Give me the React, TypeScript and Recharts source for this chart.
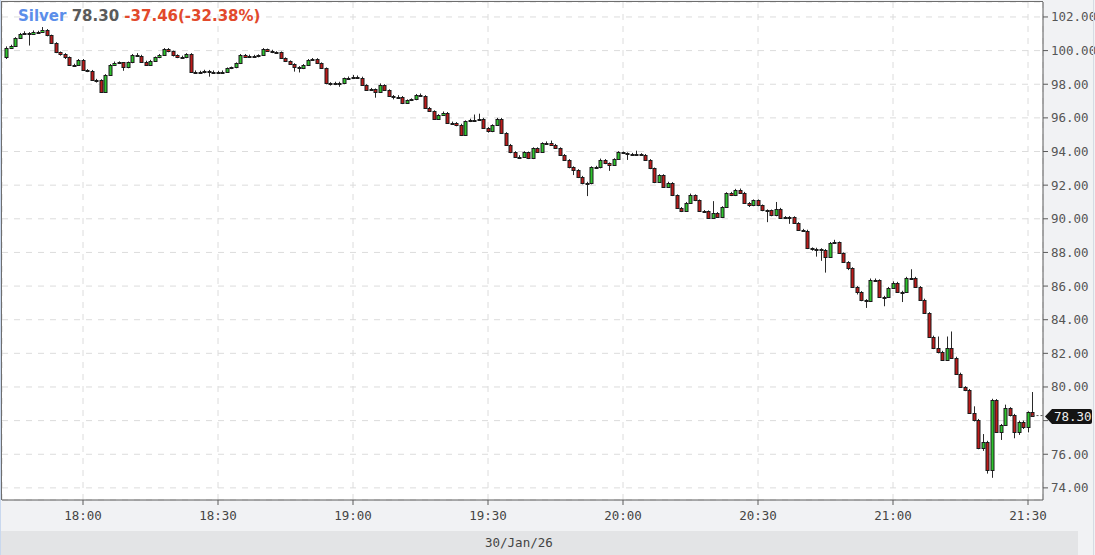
import React from "react";
import { ComposedChart, Bar, XAxis, YAxis, CartesianGrid, ReferenceLine } from "recharts";

// header / labels
const symbol = "Silver";
const lastPriceText = "78.30";
const changeText = "-37.46(-32.38%)";
const dateLabel = "30/Jan/26";

// one candle per minute, first one at 17:43
const firstOpen = 99.6;
const closes = [
  100.15, 100.27, 100.75, 101.0, 101.05, 101.0, 101.1, 101.1, 101.2, 100.9,
  100.45, 99.9, 99.8, 99.6, 99.15, 99.15, 99.44, 98.85, 98.8, 98.25,
  98.25, 97.55, 98.55, 99.15, 99.27, 99.3, 99.0, 99.3, 99.74, 99.7,
  99.35, 99.15, 99.4, 99.6, 99.75, 100.1, 99.95, 99.74, 99.64, 99.6,
  99.8, 98.75, 98.75, 98.7, 98.8, 98.72, 98.75, 98.7, 98.75, 98.95,
  99.0, 99.25, 99.74, 99.64, 99.7, 99.65, 99.72, 100.08, 99.98, 99.9,
  99.9, 99.55, 99.38, 99.2, 99.03, 98.95, 99.15, 99.44, 99.5, 99.25,
  98.97, 98.07, 98.0, 98.1, 98.05, 98.35, 98.4, 98.45, 98.4, 97.96,
  97.66, 97.7, 97.55, 97.96, 97.66, 97.3, 97.25, 97.25, 96.89, 97.05,
  97.1, 97.36, 97.3, 96.6, 96.4, 95.94, 96.17, 96.3, 95.7, 95.7,
  95.6, 94.98, 95.8, 95.9, 95.9, 95.95, 95.4, 95.2, 95.58, 95.94,
  95.1, 94.4, 93.97, 93.68, 93.7, 93.97, 93.6, 94.2, 94.0, 94.5,
  94.5, 94.4, 94.2, 93.8, 93.5, 93.08, 92.9, 92.49, 92.13, 92.1,
  93.08, 93.05, 93.5, 93.3, 93.2, 93.55, 93.97, 93.9, 93.85, 93.82,
  93.85, 93.8, 93.5, 93.02, 92.19, 92.6, 91.9, 92.13, 91.4, 90.65,
  90.47, 90.95, 91.42, 91.1, 90.47, 90.45, 90.05, 90.35, 90.1, 90.7,
  91.53, 91.4, 91.71, 91.55, 90.95, 90.8, 91.1, 90.8, 90.5, 90.5,
  90.2, 90.6, 90.05, 90.1, 90.1, 89.75, 89.34, 89.3, 88.27, 88.2,
  88.2, 88.15, 87.74, 88.56, 88.6, 87.97, 87.43, 87.08, 85.95, 85.65,
  85.17, 85.1, 86.36, 86.36, 85.35, 85.35, 85.9, 86.2, 85.65, 85.65,
  86.5, 86.5, 85.95, 85.2, 84.4, 83.0, 82.3, 82.08, 81.6, 82.3,
  81.75, 80.8, 80.0, 79.82, 78.45, 78.04, 76.37, 76.73, 75.07, 79.23,
  77.33, 77.75, 78.75, 78.33, 77.33, 77.9, 77.6, 78.5, 78.3,
];
const highs = [
  100.25, 100.35, 100.8, 101.05, 101.15, 101.1, 101.2, 101.18, 101.4, 101.28,
  100.95, 100.5, 99.95, 99.85, 99.65, 99.22, 99.5, 99.5, 98.9, 98.85,
  98.32, 98.3, 98.6, 99.2, 99.35, 99.36, 99.32, 99.35, 99.8, 99.85,
  99.75, 99.4, 99.45, 99.65, 99.8, 100.15, 100.15, 100.0, 99.78, 99.7,
  99.85, 99.85, 98.82, 98.8, 98.86, 98.85, 98.82, 98.8, 98.82, 99.0,
  99.05, 99.3, 99.8, 99.8, 99.76, 99.75, 99.78, 100.15, 100.12, 100.05,
  99.96, 99.95, 99.6, 99.42, 99.25, 99.08, 99.2, 99.5, 99.56, 99.55,
  99.3, 99.0, 98.12, 98.15, 98.15, 98.4, 98.46, 98.55, 98.52, 98.45,
  98.0, 97.78, 97.75, 98.05, 98.0, 97.7, 97.36, 97.35, 97.3, 97.1,
  97.16, 97.42, 97.45, 97.35, 96.65, 96.45, 96.22, 96.38, 96.35, 95.78,
  95.75, 95.65, 95.85, 95.95, 96.2, 96.25, 96.0, 95.45, 95.62, 96.0,
  96.0, 95.15, 94.45, 94.02, 93.78, 94.02, 94.0, 94.25, 94.25, 94.55,
  94.6, 94.65, 94.45, 94.25, 93.85, 93.55, 93.12, 92.95, 92.55, 92.2,
  93.12, 93.15, 93.58, 93.55, 93.35, 93.6, 94.02, 94.0, 93.95, 93.92,
  94.05, 93.9, 93.85, 93.55, 93.05, 92.65, 92.65, 92.2, 92.18, 91.45,
  90.7, 91.0, 91.5, 91.45, 91.15, 90.52, 90.5, 91.05, 90.4, 90.75,
  91.58, 91.6, 91.78, 91.8, 91.6, 91.0, 91.15, 91.15, 90.85, 90.56,
  90.55, 91.0, 90.65, 90.16, 90.16, 90.15, 89.8, 89.4, 89.35, 88.3,
  88.28, 88.25, 88.2, 88.62, 88.75, 88.65, 88.0, 87.48, 87.12, 86.0,
  85.7, 85.22, 86.45, 86.45, 86.4, 85.42, 85.95, 86.28, 86.25, 85.72,
  86.55, 87.0, 86.55, 86.0, 85.25, 84.45, 83.05, 83.0, 82.15, 83.0,
  83.3, 81.8, 80.85, 80.05, 79.88, 78.85, 78.1, 77.2, 76.8, 79.3,
  79.28, 77.8, 78.95, 78.8, 78.4, 78.0, 78.0, 78.55, 79.7,
];
const lows = [
  99.5, 100.1, 100.22, 100.7, 100.95, 100.3, 100.95, 101.02, 101.05, 100.85,
  100.4, 99.85, 99.7, 99.5, 99.1, 99.05, 99.1, 98.8, 98.72, 98.2,
  98.1, 97.5, 97.5, 98.5, 99.1, 99.2, 98.8, 98.95, 99.25, 99.65,
  99.3, 99.1, 99.1, 99.35, 99.55, 99.7, 99.9, 99.65, 99.55, 99.5,
  99.55, 98.7, 98.65, 98.62, 98.65, 98.45, 98.66, 98.62, 98.65, 98.7,
  98.9, 98.95, 99.2, 99.6, 99.6, 99.58, 99.6, 99.68, 99.92, 99.85,
  99.82, 99.5, 99.32, 99.15, 98.75, 98.7, 98.9, 99.1, 99.4, 99.2,
  98.92, 98.0, 97.92, 97.95, 97.85, 98.0, 98.3, 98.35, 98.35, 97.9,
  97.6, 97.6, 97.2, 97.5, 97.6, 97.25, 97.1, 97.18, 96.82, 96.85,
  97.0, 97.05, 97.25, 96.55, 96.35, 95.88, 95.9, 96.12, 95.65, 95.62,
  95.5, 94.92, 94.95, 95.75, 95.85, 95.85, 95.35, 95.12, 95.15, 95.52,
  95.05, 94.35, 93.9, 93.62, 93.6, 93.65, 93.55, 93.55, 93.95, 93.95,
  94.42, 94.35, 94.15, 93.75, 93.45, 93.0, 92.6, 92.42, 92.05, 91.35,
  92.05, 92.98, 93.0, 93.25, 92.85, 93.15, 93.5, 93.85, 93.5, 93.75,
  93.78, 93.74, 93.45, 92.95, 92.12, 92.15, 91.85, 91.85, 91.35, 90.6,
  90.4, 90.42, 90.9, 91.05, 90.42, 90.38, 90.0, 90.0, 90.05, 90.05,
  90.65, 91.35, 91.35, 91.5, 90.9, 90.7, 90.75, 90.75, 90.45, 89.8,
  90.15, 90.15, 90.0, 90.0, 89.7, 89.7, 89.3, 89.25, 88.2, 88.1,
  87.75, 87.5, 86.8, 87.7, 88.5, 87.92, 87.38, 86.95, 85.9, 85.5,
  85.1, 84.7, 85.05, 86.3, 85.3, 84.8, 85.3, 85.85, 85.6, 85.05,
  85.6, 86.42, 85.9, 85.15, 84.35, 82.95, 82.25, 82.0, 81.55, 81.55,
  81.7, 80.75, 79.95, 79.75, 78.4, 77.95, 76.3, 76.2, 74.85, 74.6,
  77.28, 76.85, 77.7, 78.25, 76.95, 77.15, 77.5, 77.3, 78.25,
];

// x ticks (candle index of each half hour)
const timeTicks = [17, 47, 77, 107, 137, 167, 197, 227];
const timeLabels = ["18:00", "18:30", "19:00", "19:30", "20:00", "20:30", "21:00", "21:30"];
const priceTicks = [74, 76, 78, 80, 82, 84, 86, 88, 90, 92, 94, 96, 98, 100, 102];
// label hidden under the last-price tag
const hiddenPriceTick = 78;

const UP = "#2ec42e";
const DOWN = "#bd1a1a";
const MONO = "'DejaVu Sans Mono', monospace";

const rows = closes.map((close, i) => ({
  t: i,
  open: i === 0 ? firstOpen : closes[i - 1],
  close,
  high: highs[i],
  low: lows[i],
  range: [lows[i], highs[i]],
}));
const last = closes[closes.length - 1];

function Candle(props: any) {
  const { x, y, width, height, payload } = props;
  if (!payload) return null;
  const { open, close, high, low } = payload;
  const top = Math.min(y, y + height);
  const bottom = Math.max(y, y + height);
  const ppu = high > low ? (bottom - top) / (high - low) : 0;
  const py = (v: number) => bottom - (v - low) * ppu;
  const cx = Math.round(x + width / 2) + 0.5;
  const bTop = Math.round(py(Math.max(open, close)));
  const bBot = Math.max(bTop + 1, Math.round(py(Math.min(open, close))));
  return (
    <g>
      <line x1={cx} x2={cx} y1={top} y2={bottom} stroke="#2a2a2a" strokeWidth={1} />
      <rect
        x={cx - 1.5}
        y={bTop + 0.5}
        width={3}
        height={bBot - bTop}
        fill={close >= open ? UP : DOWN}
        stroke="#1a1a1a"
        strokeWidth={1}
      />
    </g>
  );
}

function PriceTag(props: any) {
  const vb = props.viewBox || {};
  const x0 = (vb.x ?? 0) + (vb.width ?? 0) + 2;
  const y = Math.round(vb.y ?? 0) + 0.5;
  return (
    <g>
      <path
        d={`M${x0},${y} L${x0 + 7},${y - 7.5} L${x0 + 45},${y - 7.5} Q${x0 + 47},${y - 7.5} ${x0 + 47},${y - 5.5} L${x0 + 47},${y + 5.5} Q${x0 + 47},${y + 7.5} ${x0 + 45},${y + 7.5} L${x0 + 7},${y + 7.5} Z`}
        fill="#141414"
      />
      <text x={x0 + 9} y={y} dy="0.36em" fill="#eeeeee" fontFamily={MONO} fontSize={12.5}>
        {lastPriceText}
      </text>
    </g>
  );
}

export default function App() {
  return (
    <div
      style={{
        position: "absolute",
        left: 0,
        top: 0,
        width: 1095,
        height: 555,
        background: "#f1f2f4",
        overflow: "hidden",
      }}
    >
      <ComposedChart
        width={1095}
        height={530}
        data={rows}
        margin={{ top: 2, right: 0, bottom: 0, left: 2 }}
      >
        <CartesianGrid fill="#ffffff" stroke="#dcdcdc" strokeDasharray="6 6" />
        <XAxis
          dataKey="t"
          type="number"
          domain={[-1, 230.33]}
          allowDataOverflow
          ticks={timeTicks}
          interval={0}
          tickFormatter={(v: number) => timeLabels[timeTicks.indexOf(v)] ?? ""}
          height={30}
          tickSize={5}
          tickMargin={6}
          stroke="#5a5a5a"
          tick={{ fill: "#444", fontSize: 12.5, fontFamily: MONO }}
        />
        <YAxis
          orientation="right"
          type="number"
          domain={[73.28, 102.89]}
          allowDataOverflow
          ticks={priceTicks}
          interval={0}
          tickFormatter={(v: number) => (v === hiddenPriceTick ? "" : v.toFixed(2))}
          width={52}
          tickSize={5}
          tickMargin={3}
          stroke="#5a5a5a"
          tick={{ fill: "#555", fontSize: 12.5, fontFamily: MONO }}
        />
        <Bar dataKey="range" barSize={4} shape={<Candle />} isAnimationActive={false} />
        <ReferenceLine
          segment={[
            { x: rows.length - 1, y: last },
            { x: 230.33, y: last },
          ]}
          stroke="#555"
          strokeDasharray="2 2"
          label={<PriceTag />}
        />
      </ComposedChart>

      {/* plot frame (top / left) */}
      <div
        style={{
          position: "absolute",
          left: 1,
          top: 1,
          width: 1042,
          height: 499,
          borderTop: "1px solid #6e6e6e",
          borderLeft: "1px solid #6e6e6e",
          boxSizing: "border-box",
          pointerEvents: "none",
        }}
      />
      <div style={{ position: "absolute", left: 0, top: 0, width: 1, height: 555, background: "#c9d8ee" }} />
      <div style={{ position: "absolute", left: 1093, top: 0, width: 1, height: 555, background: "#d6dbe3" }} />

      <div
        style={{
          position: "absolute",
          left: 18,
          top: 8,
          fontFamily: "'DejaVu Sans', sans-serif",
          fontWeight: "bold",
          fontSize: 15,
          lineHeight: "16px",
          whiteSpace: "pre",
        }}
      >
        <span style={{ color: "#5b8eea" }}>{symbol}</span>
        <span style={{ color: "#5a5a5a" }}>{" " + lastPriceText + " "}</span>
        <span style={{ color: "#e2492b" }}>{changeText}</span>
      </div>

      <div
        style={{
          position: "absolute",
          left: 1,
          top: 531,
          width: 1077,
          height: 24,
          background: "#e3e4e6",
          fontFamily: MONO,
          fontSize: 12.5,
          color: "#444",
        }}
      >
        <div style={{ position: "absolute", left: 484, top: 4 }}>{dateLabel}</div>
      </div>
    </div>
  );
}
